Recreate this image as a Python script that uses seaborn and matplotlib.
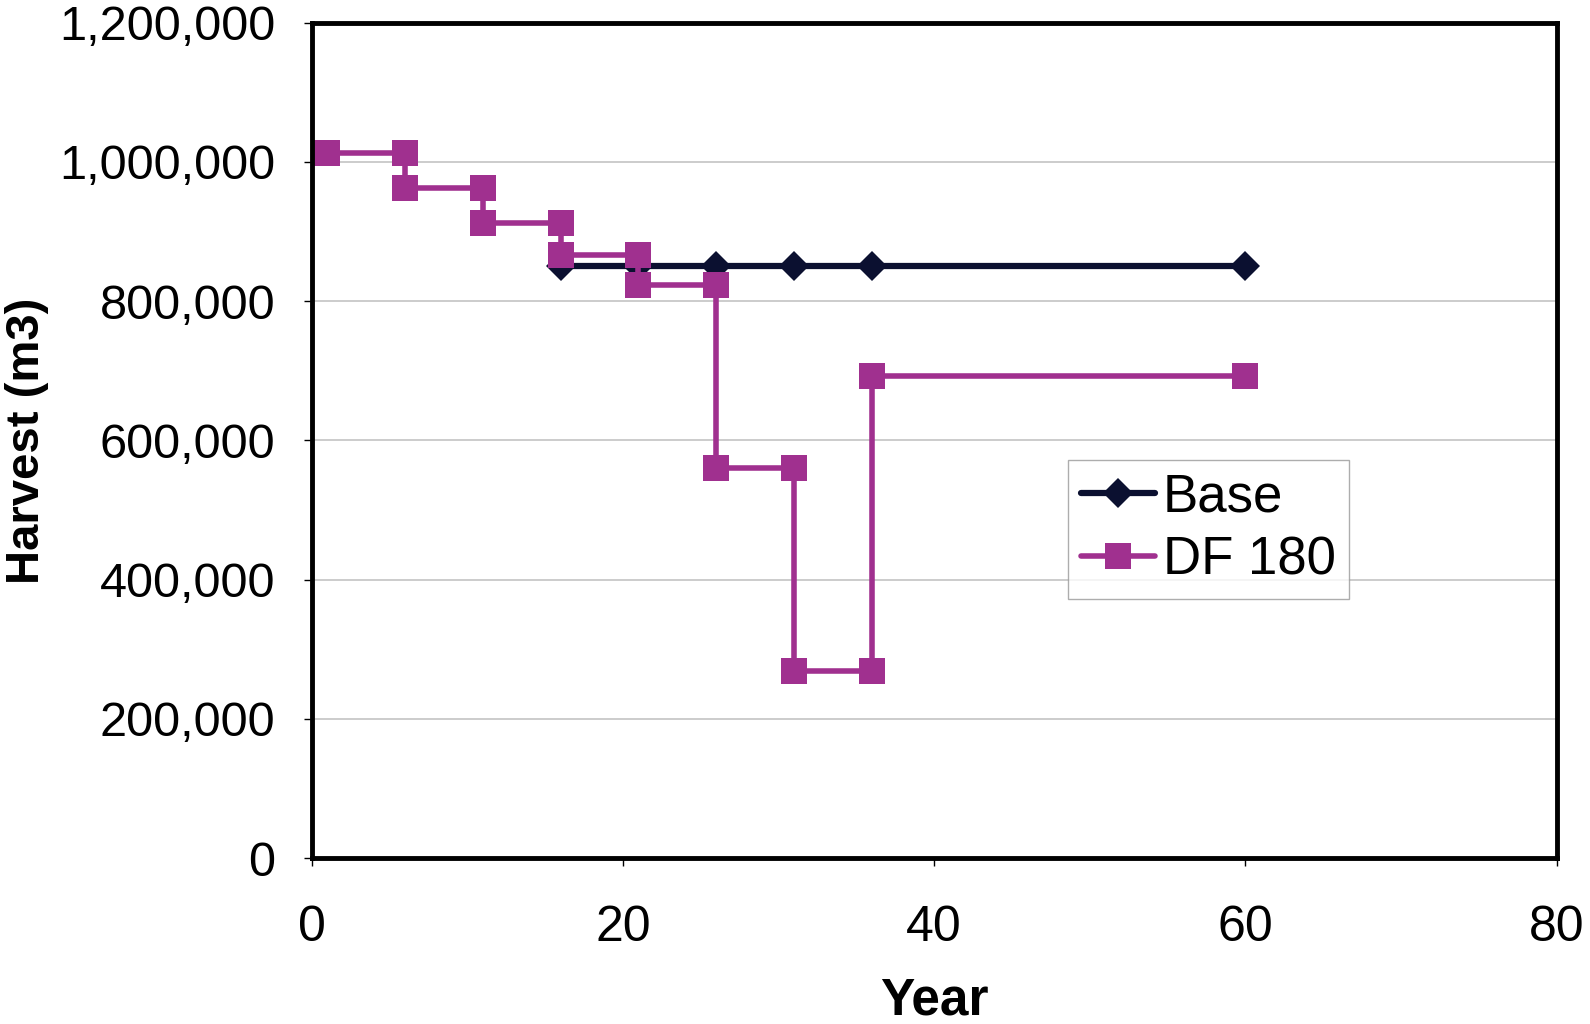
import pandas as pd
import matplotlib.pyplot as plt
import seaborn as sns
from matplotlib.ticker import FuncFormatter

# dados (leitura do gráfico)
base_ano = [16, 21, 26, 31, 36, 60]
base_colheita = [850000, 850000, 850000, 850000, 850000, 850000]

df180_ano = [1, 6, 6, 11, 11, 16, 16, 21, 21, 26, 26, 31, 31, 36, 36, 60]
df180_colheita = [1012000, 1012000, 962000, 962000, 912000, 912000, 866000, 866000,
                  823000, 823000, 560000, 560000, 268000, 268000, 692000, 692000]

series = ['Base', 'DF 180']

df = pd.concat([
    pd.DataFrame({'Year': base_ano, 'Harvest': base_colheita, 'Serie': series[0]}),
    pd.DataFrame({'Year': df180_ano, 'Harvest': df180_colheita, 'Serie': series[1]}),
], ignore_index=True)

sns.set_theme(style="white")
plt.rcParams['font.family'] = ['Liberation Sans', 'DejaVu Sans']
plt.rcParams['text.color'] = 'black'
plt.rcParams['axes.labelcolor'] = 'black'

fig = plt.figure(figsize=(15.9, 10.24), dpi=100)
ax = fig.add_axes([0.196, 0.162, 0.783, 0.816])

cores = {'Base': '#0b1030', 'DF 180': '#a0308f'}
marcadores = {'Base': 'D', 'DF 180': 's'}
larguras = {'Base': 4.5, 'DF 180': 4.0}
tamanhos = {'Base': 15, 'DF 180': 19}

for s in series:
    sns.lineplot(data=df[df['Serie'] == s], x='Year', y='Harvest', ax=ax,
                 sort=False, estimator=None, color=cores[s], marker=marcadores[s],
                 markersize=tamanhos[s], markeredgewidth=0, linewidth=larguras[s],
                 label=s)

ax.set_xlim(0, 80)
ax.set_ylim(0, 1200000)
ax.set_xticks([0, 20, 40, 60, 80])
ax.set_yticks(range(0, 1200001, 200000))
ax.yaxis.set_major_formatter(FuncFormatter(lambda v, p: f"{int(v):,}"))

ax.grid(axis='y', color='#c4c4c4', linewidth=1.2)
ax.set_axisbelow(True)
for sp in ax.spines.values():
    sp.set_color('black')
    sp.set_linewidth(3.5)

ax.tick_params(axis='both', colors='black', length=6, width=1,
               direction='out', bottom=True, left=True)
ax.tick_params(axis='x', pad=28, labelsize=36)
ax.tick_params(axis='y', pad=20, labelsize=35)

ax.set_xlabel('Year', fontsize=37, fontweight='bold', labelpad=18)
ax.set_ylabel('Harvest (m3)', fontsize=34, fontweight='bold')
ax.yaxis.set_label_coords(-0.229, 0.5)
ax.yaxis.label.set_verticalalignment('center')

leg = ax.legend(loc='upper left', bbox_to_anchor=(0.6075, 0.477), fontsize=38,
                frameon=True, fancybox=False, edgecolor='#999999', handlelength=1.4,
                handletextpad=0.15, borderpad=0.25, labelspacing=0.25,
                borderaxespad=0)
leg.get_frame().set_linewidth(1)

plt.savefig('out.png', dpi=100)
